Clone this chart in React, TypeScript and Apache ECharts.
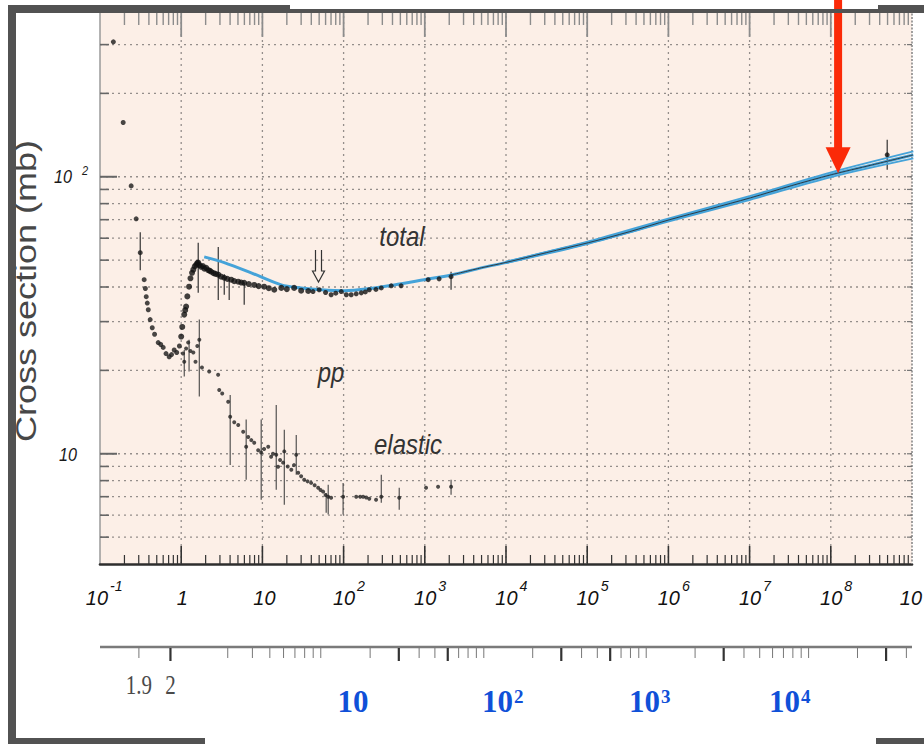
import React, { useEffect, useRef } from "react";
import * as echarts from "echarts";

// ---------- axis ranges ----------
const P_MIN = 0.1;
const P_MAX = 1e9;
const SIGMA_MIN = 4;
const SIGMA_MAX = 400;
const PROTON_MASS = 0.938272;

// ---------- tick / grid definitions ----------
const xDecadeExponents = [-1, 0, 1, 2, 3, 4, 5, 6, 7, 8, 9];
const xMinorMultipliers = [2, 3, 4, 5, 6, 7, 8, 9];
const yGridValues = [5, 6, 7, 8, 9, 10, 20, 30, 40, 50, 60, 70, 80, 90, 100, 200, 300];
const yMajorValues = [10, 100];
const yLabelExponents = [1, 2];

// sqrt(s) [GeV] secondary scale
const sqrtSTicks = [
  1.9, 2, 3, 4, 5, 6, 7, 8, 9, 10, 20, 30, 40, 50, 60, 70, 80, 90, 100,
  200, 300, 400, 500, 600, 700, 800, 900, 1000, 2000, 3000, 4000, 5000,
  6000, 7000, 8000, 9000, 10000, 20000, 30000, 40000,
];
const sqrtSBoldTicks = [2, 30, 60, 300, 600, 3000, 30000];
const sqrtSLabelValues = [1.9, 2];
const sqrtSLabelTexts = ["1.9", "2"];

// ---------- data (p_lab [GeV/c], sigma [mb]) ----------
const lowEnergyPoints = [
  [0.146, 307], [0.193, 157], [0.242, 92.7], [0.279, 70.5], [0.313, 53.2],
  [0.35, 42.5], [0.362, 39.5], [0.371, 36.9], [0.382, 35.0], [0.393, 33.1],
  [0.415, 30.5], [0.44, 28.5], [0.47, 27.0], [0.521, 25.2], [0.56, 24.8],
  [0.6, 24.2], [0.65, 23.0], [0.711, 22.4], [0.76, 22.8], [0.82, 23.7],
  [0.88, 23.2], [0.95, 24.5],
];

const totalPoints = [
  [1.0, 26.5], [1.03, 28.7], [1.09, 31.8], [1.12, 33.0], [1.15, 34.0],
  [1.19, 37.0], [1.25, 40.1], [1.3, 43.0], [1.36, 45.0], [1.41, 46.2],
  [1.47, 47.5], [1.53, 48.1], [1.58, 48.8], [1.62, 49.0], [1.68, 48.0],
  [1.76, 47.3], [1.85, 47.6], [1.93, 46.6], [2.03, 46.9], [2.15, 46.0],
  [2.24, 45.8], [2.34, 45.4], [2.5, 44.9], [2.65, 44.6], [2.86, 44.3],
  [3.1, 43.6], [3.39, 43.2], [3.7, 42.8], [4.13, 42.5], [4.5, 42.0],
  [5.04, 41.8], [5.5, 41.5], [5.97, 41.4], [6.8, 41.0], [7.93, 40.7],
  [9.0, 40.3], [10.5, 40.1], [12, 39.6], [14.0, 39.1], [17.1, 39.7],
  [20, 39.3], [24.6, 39.7], [30, 38.8], [36.7, 38.7], [42, 38.5],
  [50, 39.1], [60, 38.2], [70.2, 37.5], [80, 38.0], [93.5, 38.5],
  [108, 37.5], [124, 37.5], [143, 37.8], [165, 38.1], [185, 38.4],
  [207, 39.1], [250, 39.2], [291, 39.7], [386, 40.4], [511, 40.4],
  [1100, 42.5], [1500, 42.8], [2106, 43.6], [4.95e8, 120],
];

const elasticPoints = [
  [1.05, 23.0], [1.09, 21.5], [1.15, 24.0], [1.22, 25.2], [1.3, 23.5],
  [1.41, 23.2], [1.5, 21.5], [1.58, 24.5], [1.67, 25.8], [1.8, 20.5],
  [2.21, 19.8], [2.85, 19.3], [2.94, 17.0], [3.2, 16.5], [3.79, 15.4],
  [4.01, 13.6], [4.5, 13.0], [5.04, 12.7], [5.8, 12.0], [6.31, 10.6],
  [6.69, 11.5], [7.3, 11.2], [7.93, 10.96], [8.87, 10.3], [9.66, 10.1],
  [10.5, 10.4], [11.8, 10.6], [12.8, 9.75], [13.5, 10.0], [14.8, 9.92],
  [15.6, 8.97], [16.5, 9.5], [18.0, 9.29], [18.6, 10.2], [20.5, 9.0],
  [22.7, 8.75], [24.5, 9.1], [26.1, 9.92], [27.6, 8.54], [30, 8.3],
  [32.7, 8.06], [36, 7.95], [39.8, 7.85], [44, 7.7], [48.6, 7.54],
  [52, 7.4], [56, 7.3], [60, 7.1], [64.6, 7.0], [70.2, 6.94],
  [98.6, 7.0], [143, 7.0], [160, 7.0], [174, 7.0], [190, 6.95],
  [207, 6.88], [251, 6.82], [291, 7.0], [484, 6.94], [1036, 7.54],
  [1457, 7.6], [2106, 7.6],
];

// [p, low, high]
const totalErrorBars = [
  [0.313, 46.0, 63.0], [1.62, 38.1, 57.8], [2.86, 35.9, 55.8],
  [3.39, 37.5, 44.5], [3.9, 35.9, 42.5], [5.97, 34.5, 41.5],
  [2106, 39.1, 45.4], [4.95e8, 106, 136],
];
const elasticErrorBars = [
  [1.09, 19.0, 23.7], [1.25, 19.8, 25.8], [1.67, 16.1, 30.5],
  [4.01, 9.1, 16.3], [6.31, 8.06, 13.3], [9.66, 6.82, 13.3],
  [14.8, 7.41, 15.0], [18.6, 6.55, 12.2], [26.1, 8.4, 11.7],
  [61, 6.12, 7.2], [64.6, 6.03, 7.73], [98.6, 6.03, 7.85],
  [291, 6.65, 8.4], [484, 6.28, 7.54], [2106, 7.11, 8.06],
];

// fitted total cross section curve and its band
const fitCenter = [
  [1.92, 51.4], [3.39, 49.0], [7.28, 45.0], [17.1, 40.7], [30, 39.7],
  [53, 39.1], [102, 38.8], [201, 39.4], [420, 40.7], [984, 42.5],
  [2115, 44.2], [4950, 46.9], [9780, 49.0], [31300, 53.2], [1.03e5, 57.8],
  [3.29e5, 63.3], [1.02e6, 69.9], [3.27e6, 76.6], [1.02e7, 83.9],
  [3.25e7, 92.8], [1.01e8, 101.7], [3.24e8, 110.4], [1.04e9, 120],
];
const fitUpper = [
  [9780, 49.3], [1.03e5, 58.4], [1.02e6, 70.8], [1.02e7, 85.3],
  [1.01e8, 103.8], [1.04e9, 123.5],
];
const fitLower = [
  [9780, 48.7], [1.03e5, 57.3], [1.02e6, 69.0], [1.02e7, 82.6],
  [1.01e8, 99.8], [1.04e9, 116.5],
];

const arrowTarget = [1.23e8, 103];

// ---------- styles ----------
const SANS = '"Liberation Sans", Arial, Helvetica, sans-serif';
const SERIF = '"Liberation Serif", "Times New Roman", serif';
const BLUE_FIT = "#45a3d9";
const RED = "#fb2a08";
const BLUE_TEXT = "#1050d8";
const FRAME = "#525252";
const DOTTED = { stroke: "#948e8b", lineWidth: 1.3, lineDash: [2, 4] };

function sqrtSToPlab(rs: number) {
  const m = PROTON_MASS;
  const s = rs * rs;
  const e = (s - 2 * m * m) / (2 * m);
  return Math.sqrt(e * e - m * m);
}

function buildOption(): any {
  const xTickData: any[] = [];
  xDecadeExponents.forEach((e) => {
    if (e > -1 && e < 9) xTickData.push([Math.pow(10, e), SIGMA_MIN, 1]);
    if (e < 9) xMinorMultipliers.forEach((m) => xTickData.push([m * Math.pow(10, e), SIGMA_MIN, 0]));
  });
  const vGridData = xDecadeExponents.filter((e) => e > -1).map((e) => [Math.pow(10, e), SIGMA_MIN]);
  const hGridData = yGridValues.map((v) => [P_MIN, v]);
  const yTickData = yGridValues.map((v) => [P_MIN, v, yMajorValues.indexOf(v) >= 0 ? 1 : 0]);
  const xLabelData = xDecadeExponents.map((e) => [Math.pow(10, e), SIGMA_MIN, e]);
  const yLabelData = yLabelExponents.map((e) => [P_MIN, Math.pow(10, e), e]);
  const sTickData = sqrtSTicks.map((rs) => [sqrtSToPlab(rs), SIGMA_MIN, sqrtSBoldTicks.indexOf(rs) >= 0 ? 1 : 0]);
  const sLabelData = sqrtSLabelValues.map((rs, i) => [sqrtSToPlab(rs), SIGMA_MIN, i]);

  const custom = (name: string, data: any[], renderItem: any, z = 4) => ({
    type: "custom", name, data, renderItem, z, clip: false, silent: true,
  });

  const series: any[] = [
    custom("vgrid", vGridData, (params: any, api: any) => {
      const cs = params.coordSys;
      const v = api.value(0);
      const x = api.coord([v, SIGMA_MIN])[0];
      const edge = v >= P_MAX;
      return {
        type: "line",
        shape: { x1: x, y1: cs.y, x2: x, y2: cs.y + cs.height },
        style: edge ? { stroke: "#8a8a8a", lineWidth: 1.6, lineDash: [2, 1.5] } : DOTTED,
      };
    }, 1),
    custom("hgrid", hGridData, (params: any, api: any) => {
      const cs = params.coordSys;
      const y = api.coord([P_MIN, api.value(1)])[1];
      return { type: "line", shape: { x1: cs.x, y1: y, x2: cs.x + cs.width, y2: y }, style: DOTTED };
    }, 1),
    custom("xticks", xTickData, (params: any, api: any) => {
      const cs = params.coordSys;
      const x = api.coord([api.value(0), SIGMA_MIN])[0];
      const major = api.value(2) === 1;
      const b = cs.y + cs.height;
      const t = cs.y;
      return {
        type: "group",
        children: [
          { type: "line", shape: { x1: x, y1: b, x2: x, y2: b - (major ? 18 : 9) }, style: { stroke: "#333", lineWidth: major ? 1.6 : 1.2 } },
          { type: "line", shape: { x1: x, y1: t, x2: x, y2: t + (major ? 27 : 15) }, style: { stroke: "#8c8c8c", lineWidth: major ? 1.8 : 1.4 } },
        ],
      };
    }),
    custom("yticks", yTickData, (params: any, api: any) => {
      const cs = params.coordSys;
      const y = api.coord([P_MIN, api.value(1)])[1];
      const major = api.value(2) === 1;
      const r = cs.x + cs.width;
      return {
        type: "group",
        children: [
          { type: "line", shape: { x1: cs.x, y1: y, x2: cs.x + (major ? 17 : 9), y2: y }, style: { stroke: "#666", lineWidth: major ? 2 : 1.6 } },
          { type: "line", shape: { x1: r, y1: y, x2: r - 5, y2: y }, style: { stroke: "#777", lineWidth: 1.2 } },
        ],
      };
    }),
    custom("xlabels", xLabelData, (params: any, api: any) => {
      const cs = params.coordSys;
      const e = api.value(2);
      const x = api.coord([api.value(0), SIGMA_MIN])[0];
      const y = cs.y + cs.height + 33;
      const base = { fontFamily: SANS, fontStyle: "italic", fill: "#111", verticalAlign: "middle" };
      if (e === 0) return { type: "text", x: x + 1, y, scaleX: 0.95, style: { ...base, text: "1", fontSize: 21, align: "center" } };
      if (e === 1) return { type: "text", x: x + 2, y, scaleX: 0.95, style: { ...base, text: "10", fontSize: 21, align: "center" } };
      if (e === 9) return { type: "text", x: cs.x + cs.width + 10, y, scaleX: 0.95, style: { ...base, text: "10", fontSize: 21, align: "right" } };
      const exp = String(e);
      const supW = exp.length * 7;
      const mainW = 22;
      const left = x + 5 - (mainW + 2 + supW) / 2;
      return {
        type: "group",
        children: [
          { type: "text", x: left + mainW, y, scaleX: 0.95, style: { ...base, text: "10", fontSize: 21, align: "right" } },
          { type: "text", x: left + mainW + 2, y: y - 11, scaleX: 0.95, style: { ...base, text: exp, fontSize: 15, align: "left" } },
        ],
      };
    }, 5),
    custom("ylabels", yLabelData, (params: any, api: any) => {
      const cs = params.coordSys;
      const e = api.value(2);
      const y = api.coord([P_MIN, api.value(1)])[1];
      const base = { fontFamily: SANS, fontStyle: "italic", fill: "#1a1a1a", verticalAlign: "middle" };
      if (e === 1) return { type: "text", x: cs.x - 23, y: y + 1, scaleX: 0.85, style: { ...base, text: "10", fontSize: 19, align: "right" } };
      return {
        type: "group",
        children: [
          { type: "text", x: cs.x - 28, y, scaleX: 0.85, style: { ...base, text: "10", fontSize: 19, align: "right" } },
          { type: "text", x: cs.x - 18, y: y - 6, scaleX: 0.85, style: { ...base, text: String(e), fontSize: 13, align: "left" } },
        ],
      };
    }, 5),
    custom("sqrtsAxis", [[P_MIN, SIGMA_MIN]], (params: any) => {
      const cs = params.coordSys;
      const y0 = cs.y + cs.height + 83;
      return { type: "line", shape: { x1: cs.x, y1: y0, x2: cs.x + cs.width, y2: y0 }, style: { stroke: "#7a7a7a", lineWidth: 2.6 } };
    }),
    custom("sqrtsTicks", sTickData, (params: any, api: any) => {
      const cs = params.coordSys;
      const x = api.coord([api.value(0), SIGMA_MIN])[0];
      const y0 = cs.y + cs.height + 83;
      const bold = api.value(2) === 1;
      return { type: "line", shape: { x1: x, y1: y0 + 1, x2: x, y2: y0 + (bold ? 14 : 11) }, style: { stroke: bold ? "#333" : "#777", lineWidth: bold ? 2.2 : 1 } };
    }),
    custom("sqrtsLabels", sLabelData, (params: any, api: any) => {
      const cs = params.coordSys;
      const x = api.coord([api.value(0), SIGMA_MIN])[0];
      const y0 = cs.y + cs.height + 83;
      return {
        type: "text", x, y: y0 + 37, scaleY: 1.3,
        style: { text: sqrtSLabelTexts[api.value(2)], fontFamily: SERIF, fontSize: 21, fill: "#4a4a4a", align: "center", verticalAlign: "middle" },
      };
    }, 5),
    // data
    custom("totalErr", totalErrorBars, (params: any, api: any) => {
      const x = api.value(0);
      const p1 = api.coord([x, api.value(1)]);
      const p2 = api.coord([x, api.value(2)]);
      return { type: "line", shape: { x1: p1[0], y1: p1[1], x2: p2[0], y2: p2[1] }, style: { stroke: "#333", lineWidth: 1.2 } };
    }, 3),
    custom("elasticErr", elasticErrorBars, (params: any, api: any) => {
      const x = api.value(0);
      const p1 = api.coord([x, api.value(1)]);
      const p2 = api.coord([x, api.value(2)]);
      return { type: "line", shape: { x1: p1[0], y1: p1[1], x2: p2[0], y2: p2[1] }, style: { stroke: "#444", lineWidth: 1.1 } };
    }, 3),
    {
      type: "line", name: "fitUpper", data: fitUpper, smooth: 0.3, showSymbol: false, z: 3,
      lineStyle: { color: BLUE_FIT, width: 1.8 }, silent: true,
    },
    {
      type: "line", name: "fitLower", data: fitLower, smooth: 0.3, showSymbol: false, z: 3,
      lineStyle: { color: BLUE_FIT, width: 1.8 }, silent: true,
    },
    {
      type: "line", name: "fit", data: fitCenter, smooth: 0.3, showSymbol: false, z: 3,
      lineStyle: { color: BLUE_FIT, width: 3 }, silent: true,
    },
    {
      type: "line", name: "fitCore", data: fitCenter.filter((d) => d[0] >= 2000), smooth: 0.3, showSymbol: false, z: 4,
      lineStyle: { color: "#2e3b44", width: 1 }, silent: true,
    },
    {
      type: "scatter", name: "low", data: lowEnergyPoints, symbol: "circle", symbolSize: 5, z: 5,
      itemStyle: { color: "#1a1a1a" }, silent: true,
    },
    {
      type: "scatter", name: "total", data: totalPoints, symbol: "circle",
      symbolSize: (v: any) => (v[0] < 40 ? 6 : 5), z: 5,
      itemStyle: { color: "#111" }, silent: true,
    },
    {
      type: "scatter", name: "elastic", data: elasticPoints, symbol: "circle", symbolSize: 4, z: 5,
      itemStyle: { color: "#222" }, silent: true,
    },
    custom("arrow", [arrowTarget], (params: any, api: any) => {
      const pt = api.coord([api.value(0), api.value(1)]);
      const x = pt[0];
      const y = pt[1];
      return {
        type: "group",
        children: [
          { type: "rect", shape: { x: x - 4, y: 0, width: 8, height: y - 24 }, style: { fill: RED } },
          { type: "polygon", shape: { points: [[x - 12.5, y - 26], [x + 12.5, y - 26], [x, y]] }, style: { fill: RED } },
        ],
      };
    }, 20),
  ];

  const annText = (text: string, x: number, y: number) => ({
    type: "text", x, y, scaleY: 1.12, z: 50,
    style: { text, fontFamily: SANS, fontStyle: "italic", fontSize: 24, fill: "#333", align: "center", verticalAlign: "middle" },
  });
  const blueMain = (x: number, align: string) => ({
    type: "text", x, y: 701, z: 50,
    style: { text: "10", fontFamily: SERIF, fontWeight: "bold", fontSize: 31, fill: BLUE_TEXT, align, verticalAlign: "middle" },
  });
  const blueSup = (text: string, x: number) => ({
    type: "text", x, y: 696, z: 50,
    style: { text, fontFamily: SERIF, fontWeight: "bold", fontSize: 19, fill: BLUE_TEXT, align: "left", verticalAlign: "middle" },
  });

  const graphic: any[] = [
    // frame bars
    { type: "rect", z: 60, shape: { x: 8, y: 5, width: 8, height: 739 }, style: { fill: FRAME } },
    { type: "rect", z: 60, shape: { x: 8, y: 5, width: 282, height: 8 }, style: { fill: FRAME } },
    { type: "rect", z: 60, shape: { x: 290, y: 9, width: 588, height: 4 }, style: { fill: FRAME } },
    { type: "rect", z: 60, shape: { x: 878, y: 5, width: 46, height: 8 }, style: { fill: FRAME } },
    { type: "rect", z: 60, shape: { x: 8, y: 738, width: 197, height: 6 }, style: { fill: FRAME } },
    { type: "rect", z: 60, shape: { x: 876, y: 738, width: 48, height: 6 }, style: { fill: FRAME } },
    // y axis title
    {
      type: "text", x: 26, y: 291, rotation: Math.PI / 2, scaleX: 1.2, z: 50,
      style: { text: "Cross section (mb)", fontFamily: SANS, fontSize: 30, fill: "#474747", align: "center", verticalAlign: "middle" },
    },
    annText("total", 402, 237),
    annText("pp", 331, 373),
    annText("elastic", 408, 445),
    // hollow double arrow marker
    {
      type: "polyline", z: 50,
      shape: { points: [[315.5, 250], [315.5, 271], [312.5, 271], [318.5, 282], [324.5, 271], [321.5, 271], [321.5, 250]] },
      style: { stroke: "#333", lineWidth: 1.2, fill: "none" },
    },
    // blue sqrt(s) decade labels
    blueMain(353, "center"),
    blueMain(513, "right"), blueSup("2", 514),
    blueMain(660, "right"), blueSup("3", 661),
    blueMain(800, "right"), blueSup("4", 801),
  ];

  return {
    animation: false,
    backgroundColor: "#ffffff",
    grid: {
      left: 100, top: 10, width: 812, height: 554,
      show: true, backgroundColor: "#fcefe7", borderWidth: 0, containLabel: false,
    },
    xAxis: {
      type: "log", logBase: 10, min: P_MIN, max: P_MAX,
      axisLine: { show: true, lineStyle: { color: "#2e2e2e", width: 2.6 } },
      axisTick: { show: false }, axisLabel: { show: false }, splitLine: { show: false },
    },
    yAxis: {
      type: "log", logBase: 10, min: SIGMA_MIN, max: SIGMA_MAX,
      axisLine: { show: true, lineStyle: { color: "#9a9a9a", width: 1.5 } },
      axisTick: { show: false }, axisLabel: { show: false }, splitLine: { show: false },
    },
    series,
    graphic,
  };
}

export default function App() {
  const ref = useRef<HTMLDivElement>(null);
  useEffect(() => {
    if (!ref.current) return;
    const chart = echarts.init(ref.current, null, { renderer: "svg" });
    chart.setOption(buildOption());
    return () => chart.dispose();
  }, []);
  return (
    <div
      ref={ref}
      style={{ position: "fixed", left: 0, top: 0, width: 924, height: 744, background: "#ffffff" }}
    />
  );
}
